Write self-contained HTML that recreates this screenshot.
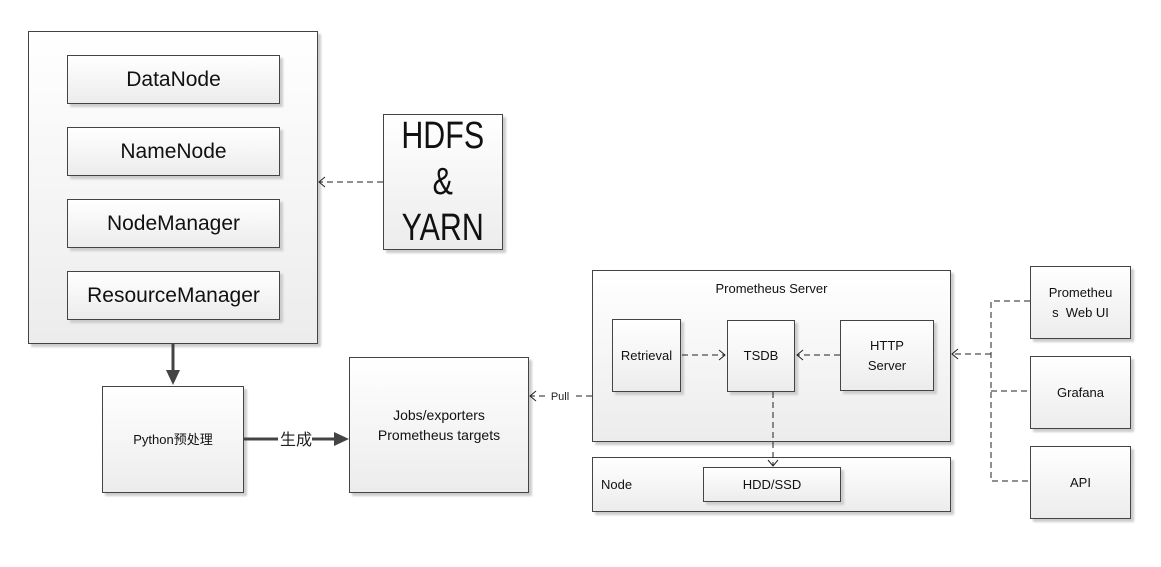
<!DOCTYPE html>
<html><head><meta charset="utf-8"><style>
body{margin:0;width:1161px;height:567px;background:#fff;position:relative;overflow:hidden;font-family:"Liberation Sans","Noto Sans CJK SC",sans-serif;color:#111}
.b{position:absolute;box-sizing:border-box;border:1px solid #444;background:linear-gradient(#fff,#ececec);box-shadow:3px 3px 2px #ccc;display:flex;align-items:center;justify-content:center;text-align:center}
.in{font-size:21px}
.s{font-size:13px;line-height:20px}
svg{position:absolute;left:0;top:0}
</style></head><body>
<div class="b" style="left:28px;top:31px;width:290px;height:313px"></div>
<div class="b in" style="left:67px;top:55px;width:213px;height:49px">DataNode</div>
<div class="b in" style="left:67px;top:127px;width:213px;height:49px">NameNode</div>
<div class="b in" style="left:67px;top:199px;width:213px;height:49px">NodeManager</div>
<div class="b in" style="left:67px;top:271px;width:213px;height:49px">ResourceManager</div>
<div class="b" style="left:383px;top:114px;width:120px;height:136px;font-size:38px;line-height:46px"><span style="display:inline-block;transform:scaleX(0.8)">HDFS<br>&amp;<br>YARN</span></div>
<div class="b s" style="left:102px;top:386px;width:142px;height:107px">Python预处理</div>
<div class="b s" style="left:349px;top:357px;width:180px;height:136px;font-size:14px">Jobs/exporters<br>Prometheus targets</div>
<div class="b s" style="left:592px;top:270px;width:359px;height:172px;align-items:flex-start;padding-top:8px">Prometheus Server</div>
<div class="b s" style="left:612px;top:319px;width:69px;height:73px">Retrieval</div>
<div class="b s" style="left:727px;top:320px;width:68px;height:72px">TSDB</div>
<div class="b s" style="left:840px;top:320px;width:94px;height:71px">HTTP<br>Server</div>
<div class="b s" style="left:592px;top:457px;width:359px;height:55px;justify-content:flex-start;padding-left:8px">Node</div>
<div class="b s" style="left:703px;top:467px;width:138px;height:35px">HDD/SSD</div>
<div class="b s" style="left:1030px;top:266px;width:101px;height:73px">Prometheu<br>s&nbsp; Web UI</div>
<div class="b s" style="left:1030px;top:356px;width:101px;height:73px">Grafana</div>
<div class="b s" style="left:1030px;top:446px;width:101px;height:73px">API</div>
<svg width="1161" height="567">
<g stroke="#222" stroke-width="1" fill="none" stroke-dasharray="6,4">
<line x1="383" y1="182" x2="319" y2="182"/>
<line x1="592" y1="396" x2="575" y2="396"/>
<line x1="545" y1="396" x2="530" y2="396"/>
<line x1="682" y1="355" x2="725" y2="355"/>
<line x1="840" y1="355" x2="797" y2="355"/>
<line x1="773" y1="392" x2="773" y2="466"/>
<polyline points="1030,301 991,301 991,481 1030,481"/>
<line x1="991" y1="391" x2="1030" y2="391"/>
<line x1="991" y1="354" x2="952" y2="354"/>
</g>
<g stroke="#222" stroke-width="1" fill="none">
<polyline points="325,177 319,182 325,187"/>
<polyline points="536,391 530,396 536,401"/>
<polyline points="719,350 725,355 719,360"/>
<polyline points="803,350 797,355 803,360"/>
<polyline points="768,460 773,466 778,460"/>
<polyline points="958,349 952,354 958,359"/>
</g>
<line x1="173" y1="344" x2="173" y2="372" stroke="#444" stroke-width="3"/>
<polygon points="166,370 180,370 173,385" fill="#444"/>
<line x1="244" y1="439" x2="278" y2="439" stroke="#444" stroke-width="3"/>
<line x1="312" y1="439" x2="336" y2="439" stroke="#444" stroke-width="3"/>
<polygon points="334,432 334,446 349,439" fill="#444"/>
<text x="296" y="445" font-size="16" text-anchor="middle" font-family="Liberation Sans,Noto Sans CJK SC,sans-serif" fill="#222">生成</text>
<text x="560" y="400" font-size="11" text-anchor="middle" font-family="Liberation Sans,sans-serif" fill="#222">Pull</text>
</svg>
</body></html>
